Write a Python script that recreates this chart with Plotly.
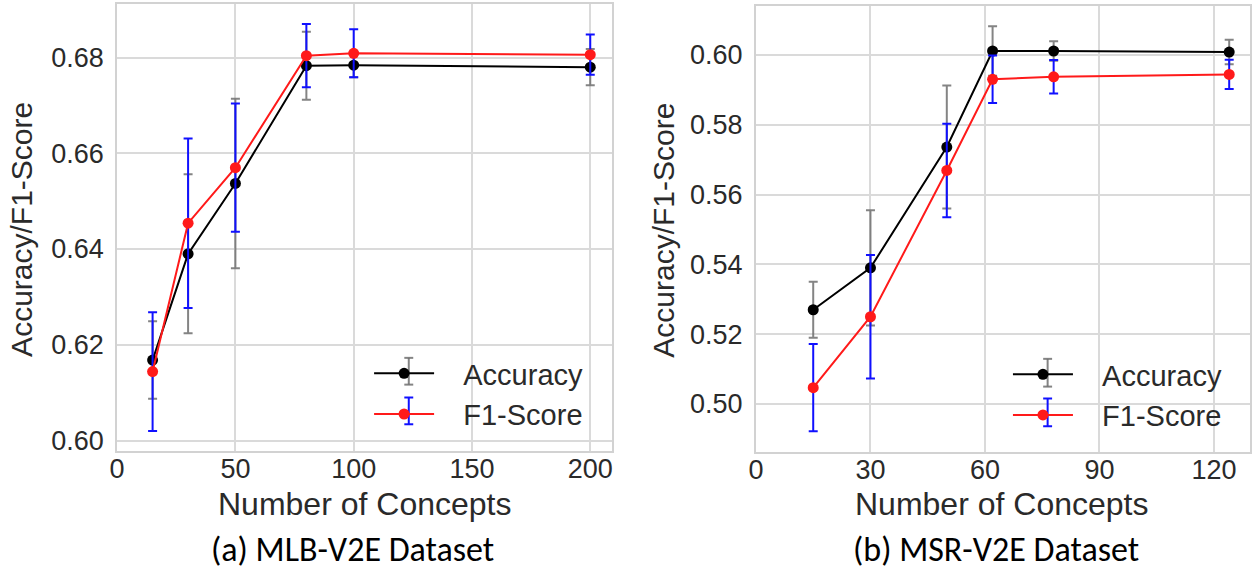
import plotly.graph_objects as go

# MLB-V2E results
mlb_concepts = [15, 30, 50, 80, 100, 200]
mlb_acc = [0.6168, 0.6390, 0.6537, 0.6783, 0.6784, 0.6780]
mlb_acc_err = [0.0081, 0.0166, 0.0177, 0.0071, 0.0025, 0.0038]
mlb_f1 = [0.6144, 0.6454, 0.6570, 0.6804, 0.6809, 0.6806]
mlb_f1_err = [0.0124, 0.0177, 0.0134, 0.0066, 0.0050, 0.0042]

# MSR-V2E results
msr_concepts = [15, 30, 50, 62, 78, 124]
msr_acc = [0.5270, 0.5390, 0.5736, 0.6011, 0.6011, 0.6008]
msr_acc_err = [0.0080, 0.0165, 0.0176, 0.0071, 0.0028, 0.0035]
msr_f1 = [0.5047, 0.5250, 0.5669, 0.5930, 0.5937, 0.5944]
msr_f1_err = [0.0125, 0.0177, 0.0134, 0.0068, 0.0048, 0.0042]

series_names = ["Accuracy", "F1-Score"]
mlb_ticks_x = [0, 50, 100, 150, 200]
msr_ticks_x = [0, 30, 60, 90, 120]
mlb_ticks_y = [0.60, 0.62, 0.64, 0.66, 0.68]
msr_ticks_y = [0.50, 0.52, 0.54, 0.56, 0.58, 0.60]

W, H = 1252, 574
AX_FONT = "Liberation Sans, Arial, sans-serif"
CAP_FONT = "Carlito, Calibri, Lato, sans-serif"
TXT = "#2a2a2a"
GAP = "\u00a0\u00a0\u00a0"  # space between legend symbol and label

STYLE = {
    "Accuracy": dict(line="#000000", err="rgba(110,110,110,0.85)"),
    "F1-Score": dict(line="#ff1a1a", err="#1010ff"),
}


def add_series(fig, x, y, err, name, xa, ya, legend):
    st = STYLE[name]
    fig.add_trace(go.Scatter(
        x=x, y=y, name=GAP + name, mode="lines+markers",
        xaxis=xa, yaxis=ya, legend=legend,
        line=dict(color=st["line"], width=2),
        marker=dict(color=st["line"], size=11),
        error_y=dict(type="data", array=err, color=st["err"],
                     thickness=2, width=4.5),
    ))


fig = go.Figure()
add_series(fig, mlb_concepts, mlb_acc, mlb_acc_err, series_names[0], "x", "y", "legend")
add_series(fig, mlb_concepts, mlb_f1, mlb_f1_err, series_names[1], "x", "y", "legend")
add_series(fig, msr_concepts, msr_acc, msr_acc_err, series_names[0], "x2", "y2", "legend2")
add_series(fig, msr_concepts, msr_f1, msr_f1_err, series_names[1], "x2", "y2", "legend2")


def axis(domain, rng, tickvals, fmt, anchor, is_x):
    ax = dict(
        domain=domain, range=rng, tickvals=tickvals, tickformat=fmt,
        anchor=anchor, showgrid=True, gridcolor="#dadada", gridwidth=1.5,
        zeroline=False, showline=True, mirror=True, linecolor="#d2d2d2",
        linewidth=2,
        tickfont=dict(family=AX_FONT, size=27, color=TXT),
    )
    if is_x:
        ax.update(ticks="", ticklabelstandoff=-7)
    else:
        ax.update(ticks="outside", ticklen=6, tickcolor="rgba(0,0,0,0)")
    return ax


def px_x(p):
    return p / W


def px_y(p):
    return 1 - p / H


legend_font = dict(family=AX_FONT, size=29, color=TXT)
fig.update_layout(
    width=W, height=H, autosize=False,
    margin=dict(l=0, r=0, t=0, b=0),
    paper_bgcolor="white", plot_bgcolor="white",
    xaxis=axis([px_x(110), px_x(609)], [0, 209.25], mlb_ticks_x, "d", "y", True),
    yaxis=axis([px_y(455), px_y(4)], [0.5978, 0.6912], mlb_ticks_y, ".2f", "x", False),
    xaxis2=axis([px_x(754), 1.0], [0, 129.45], msr_ticks_x, "d", "y2", True),
    yaxis2=axis([px_y(455.5), px_y(6)], [0.4864, 0.6140], msr_ticks_y, ".2f", "x2", False),
    legend=dict(x=px_x(364), y=px_y(351), xanchor="left", yanchor="top",
                bgcolor="rgba(0,0,0,0)", itemwidth=60, font=legend_font),
    legend2=dict(x=px_x(1008), y=px_y(352), xanchor="left", yanchor="top",
                 bgcolor="rgba(0,0,0,0)", itemwidth=60, font=legend_font),
)

# error-bar glyphs behind the legend markers
legend_bars = [
    (404, 361, 388, STYLE["Accuracy"]["err"]),
    (404, 401, 428, STYLE["F1-Score"]["err"]),
    (1048, 362, 390, STYLE["Accuracy"]["err"]),
    (1048, 402, 430, STYLE["F1-Score"]["err"]),
]
for xc, y0, y1, col in legend_bars:
    ln = dict(color=col, width=2)
    fig.add_shape(type="line", xref="paper", yref="paper", layer="above",
                  x0=px_x(xc), x1=px_x(xc), y0=px_y(y0), y1=px_y(y1), line=ln)
    for yy in (y0, y1):
        fig.add_shape(type="line", xref="paper", yref="paper", layer="above",
                      x0=px_x(xc - 4.5), x1=px_x(xc + 4.5), y0=px_y(yy), y1=px_y(yy),
                      line=ln)

title_font = dict(family=AX_FONT, size=32, color=TXT)
ytitle_font = dict(family=AX_FONT, size=30, color=TXT)
cap_font = dict(family=CAP_FONT, size=34, color="#000000")
texts = [
    ("Number of Concepts", 359, 508, 0, title_font),
    ("Number of Concepts", 1002, 508, 0, title_font),
    ("Accuracy/F1-Score", 14, 231, -90, ytitle_font),
    ("Accuracy/F1-Score", 661, 232, -90, ytitle_font),
    ("(a) MLB-V2E Dataset", 347, 554, 0, cap_font),
    ("(b) MSR-V2E Dataset", 996, 554, 0, cap_font),
]
for txt, xp, yp, ang, f in texts:
    fig.add_annotation(text=txt, x=px_x(xp), y=px_y(yp), xref="paper", yref="paper",
                       xanchor="center", yanchor="middle", textangle=ang,
                       showarrow=False, font=f)

fig.write_html("out.html")
